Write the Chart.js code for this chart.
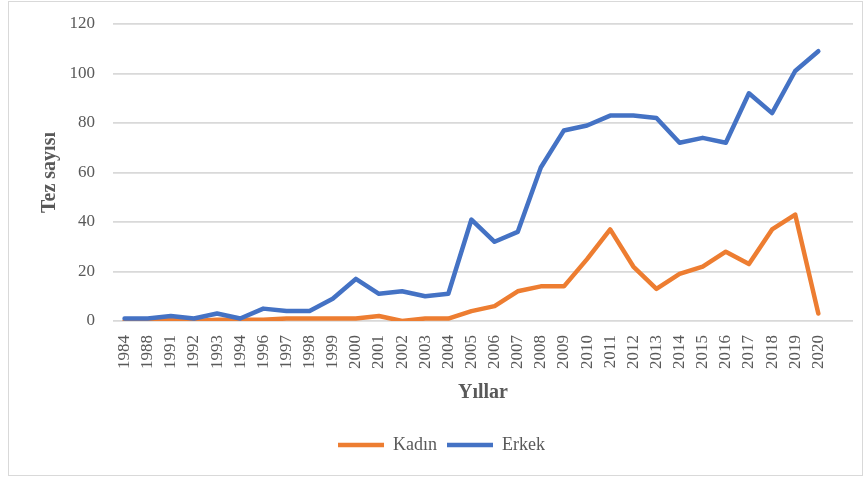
<!DOCTYPE html>
<html>
<head>
<meta charset="utf-8">
<script src="https://cdn.jsdelivr.net/npm/chart.js@4/dist/chart.umd.min.js"></script>
<style>
  html, body { margin: 0; padding: 0; background: #fff; }
  #wrap { position: relative; width: 868px; height: 477px; }
  #frame { position: absolute; left: 8px; top: 1px; width: 853px; height: 473px; border: 1px solid #d9d9d9; pointer-events: none; }
  canvas { position: absolute; left: 0; top: 0; }
</style>
</head>
<body>
<div id="wrap">
  <canvas id="chart" width="868" height="477"></canvas>
  <div id="frame"></div>
</div>
<script>
// yillar (son kategori bos)
const years = ['1984', '1988', '1991', '1992', '1993', '1994', '1996', '1997', '1998', '1999',
  '2000', '2001', '2002', '2003', '2004', '2005', '2006', '2007', '2008', '2009',
  '2010', '2011', '2012', '2013', '2014', '2015', '2016', '2017', '2018', '2019', '2020', ''];

const kadin = [0, 0, 0.5, 0, 0.5, 0.5, 0.5, 1, 1, 1,
  1, 2, 0, 1, 1, 4, 6, 12, 14, 14,
  25, 37, 22, 13, 19, 22, 28, 23, 37, 43, 3, null];

const erkek = [1, 1, 2, 1, 3, 1, 5, 4, 4, 9,
  17, 11, 12, 10, 11, 41, 32, 36, 62, 77,
  79, 83, 83, 82, 72, 74, 72, 92, 84, 101, 109, null];

const yTicks = [0, 20, 40, 60, 80, 100, 120];

const grayText = '#595959';
const serif = '"Liberation Serif", "Times New Roman", serif';

new Chart(document.getElementById('chart'), {
    type: 'line',
    data: {
        labels: years,
        datasets: [
            {
                label: 'Kadın',
                data: kadin,
                borderColor: '#ED7D31',
                backgroundColor: '#ED7D31',
                borderWidth: 4.5,
                borderJoinStyle: 'round',
                borderCapStyle: 'round',
                pointRadius: 0,
                tension: 0,
                order: 1
            },
            {
                label: 'Erkek',
                data: erkek,
                borderColor: '#4472C4',
                backgroundColor: '#4472C4',
                borderWidth: 4.5,
                borderJoinStyle: 'round',
                borderCapStyle: 'round',
                pointRadius: 0,
                tension: 0,
                order: 0
            }
        ]
    },
    options: {
        responsive: false,
        animation: false,
        layout: { padding: { left: 30, right: 15, top: 24, bottom: 13 } },
        plugins: {
            tooltip: { enabled: false },
            legend: {
                position: 'bottom',
                labels: {
                    usePointStyle: true,
                    pointStyle: 'line',
                    pointStyleWidth: 46,
                    boxHeight: 4,
                    padding: 10,
                    color: grayText,
                    font: { family: serif, size: 18 },
                    sort: (a, b) => a.datasetIndex - b.datasetIndex
                }
            }
        },
        scales: {
            x: {
                offset: true,
                grid: { display: false, drawTicks: false },
                border: { display: false },
                ticks: {
                    autoSkip: false,
                    minRotation: 90,
                    maxRotation: 90,
                    padding: 14,
                    color: grayText,
                    font: { family: serif, size: 17 }
                },
                title: {
                    display: true,
                    text: 'Yıllar',
                    color: grayText,
                    font: { family: serif, size: 20, weight: 'bold' },
                    padding: { top: 4, bottom: 21 }
                },
                afterFit: (scale) => {
                    scale.height = 105;
                    scale.paddingLeft = 0;
                    scale.paddingRight = 0;
                }
            },
            y: {
                min: 0,
                max: 120,
                afterBuildTicks: (scale) => { scale.ticks = yTicks.map(v => ({ value: v })); },
                grid: { color: '#d9d9d9', lineWidth: 1.8, drawTicks: false },
                border: { display: false },
                ticks: {
                    padding: 18,
                    color: grayText,
                    font: { family: serif, size: 17 }
                },
                title: {
                    display: true,
                    text: 'Tez sayısı',
                    color: grayText,
                    font: { family: serif, size: 20, weight: 'bold' },
                    padding: { top: 8, bottom: 4 }
                },
                afterFit: (scale) => {
                    scale.width = 83;
                    scale.paddingTop = 0;
                    scale.paddingBottom = 0;
                }
            }
        }
    }
});
</script>
</body>
</html>
